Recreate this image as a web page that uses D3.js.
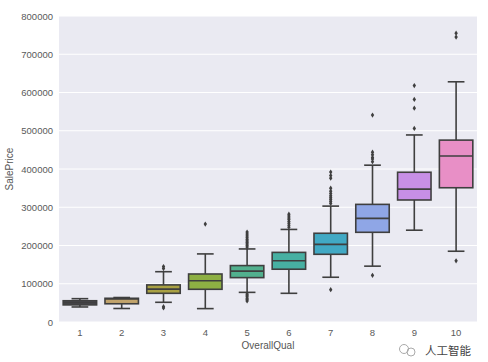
<!DOCTYPE html>
<html lang="en">
<head>
<meta charset="UTF-8">
<title>SalePrice by OverallQual</title>
<script src="https://d3js.org/d3.v7.min.js"></script>
<style>
    body {
        margin: 0;
        background: #fff;
        font-family: 'Liberation Sans', Arial, sans-serif;
    }
    .tick text { fill: #5a5a5a; font-size: 9.5px; }
    .axis-label { fill: #555; font-size: 10px; }
</style>
</head>
<body>
<div id="chart"></div>
<script>
// box statistics
const categories = [1, 2, 3, 4, 5, 6, 7, 8, 9, 10];
const whiskerLow  = [39300, 35311, 51500, 35000, 77500, 75000, 117000, 146000, 240000, 185000];
const q1          = [44725, 47655, 75000, 85500, 116000, 138000, 177000, 234500, 319000, 351000];
const medians     = [50150, 60000, 86000, 108000, 133000, 160000, 203000, 271000, 347500, 434000];
const q3          = [55575, 62000, 97000, 125500, 147500, 182000, 232000, 307500, 391500, 475500];
const whiskerHigh = [61000, 64000, 131500, 178000, 191000, 242000, 303000, 410000, 489000, 628000];
const outliers = [
    [],
    [],
    [36600, 40000, 139600, 145000],
    [256000],
    [55000, 58500, 62000, 66000, 70000, 73000, 196000, 200000, 204000, 208000, 212000, 216000, 220000, 225000, 230000, 235000],
    [248000, 253000, 258000, 263000, 268000, 272000, 277000, 282000],
    [84500, 310000, 315000, 320000, 325000, 330000, 336000, 342000, 350000, 376000, 383000, 392000],
    [122000, 419000, 426000, 430000, 437000, 444000, 541000],
    [506000, 559000, 582000, 618000],
    [160000, 745000, 755000]
];
const boxColors = ["#48474f", "#c2a46c", "#a9a143", "#8daf43", "#52b08e", "#47b0a2", "#41a9c4", "#8fa6e6", "#c78fe6", "#e88fc6"];
const yTicks = [0, 100000, 200000, 300000, 400000, 500000, 600000, 700000, 800000];

const width = 488;
const height = 362;
const margin = { top: 16, right: 11, bottom: 40, left: 59 };
const lineColor = "#3f3f3f";

const svg = d3.select("#chart")
    .append("svg")
    .attr("width", width)
    .attr("height", height);

const x = d3.scaleBand()
    .domain(categories)
    .range([margin.left, width - margin.right])
    .paddingInner(0.2)
    .paddingOuter(0.1);

const y = d3.scaleLinear()
    .domain([0, 800000])
    .range([height - margin.bottom, margin.top]);

// plot background
svg.append("rect")
    .attr("x", margin.left)
    .attr("y", margin.top)
    .attr("width", width - margin.left - margin.right)
    .attr("height", height - margin.top - margin.bottom)
    .attr("fill", "#eaeaf2");

// grid lines
svg.append("g")
    .selectAll("line")
    .data(yTicks)
    .enter()
    .append("line")
    .attr("x1", margin.left)
    .attr("x2", width - margin.right)
    .attr("y1", d => y(d))
    .attr("y2", d => y(d))
    .attr("stroke", "#fff")
    .attr("stroke-width", 1);

// axes
const yAxis = svg.append("g")
    .attr("transform", `translate(${margin.left},0)`)
    .call(d3.axisLeft(y).tickValues(yTicks).tickFormat(d3.format("d")).tickSize(0).tickPadding(6));
yAxis.select(".domain").remove();

const xAxis = svg.append("g")
    .attr("transform", `translate(0,${height - margin.bottom})`)
    .call(d3.axisBottom(x).tickSize(0).tickPadding(7));
xAxis.select(".domain").remove();

svg.append("text")
    .attr("class", "axis-label")
    .attr("x", (margin.left + width - margin.right) / 2)
    .attr("y", 349)
    .attr("text-anchor", "middle")
    .text("OverallQual");

svg.append("text")
    .attr("class", "axis-label")
    .attr("transform", `translate(13,${(margin.top + height - margin.bottom) / 2}) rotate(-90)`)
    .attr("text-anchor", "middle")
    .text("SalePrice");

// boxes
const boxes = svg.append("g")
    .selectAll("g")
    .data(categories)
    .enter()
    .append("g");

const bw = x.bandwidth();
const cx = (d) => x(d) + bw / 2;

// whiskers
boxes.append("line")
    .attr("x1", cx).attr("x2", cx)
    .attr("y1", (d, i) => y(whiskerLow[i]))
    .attr("y2", (d, i) => y(q1[i]))
    .attr("stroke", lineColor).attr("stroke-width", 1.6);
boxes.append("line")
    .attr("x1", cx).attr("x2", cx)
    .attr("y1", (d, i) => y(q3[i]))
    .attr("y2", (d, i) => y(whiskerHigh[i]))
    .attr("stroke", lineColor).attr("stroke-width", 1.6);

// caps
[whiskerLow, whiskerHigh].forEach(arr => {
    boxes.append("line")
        .attr("x1", d => cx(d) - bw / 4)
        .attr("x2", d => cx(d) + bw / 4)
        .attr("y1", (d, i) => y(arr[i]))
        .attr("y2", (d, i) => y(arr[i]))
        .attr("stroke", lineColor).attr("stroke-width", 1.6);
});

boxes.append("rect")
    .attr("x", d => x(d))
    .attr("width", bw)
    .attr("y", (d, i) => y(q3[i]))
    .attr("height", (d, i) => y(q1[i]) - y(q3[i]))
    .attr("fill", (d, i) => boxColors[i])
    .attr("stroke", lineColor)
    .attr("stroke-width", 1.6);

boxes.append("line")
    .attr("x1", d => x(d))
    .attr("x2", d => x(d) + bw)
    .attr("y1", (d, i) => y(medians[i]))
    .attr("y2", (d, i) => y(medians[i]))
    .attr("stroke", lineColor).attr("stroke-width", 1.6);

// outliers as small diamonds
const diamond = "M0,-2.6L1.7,0L0,2.6L-1.7,0Z";
boxes.each(function (d, i) {
    d3.select(this).selectAll("path")
        .data(outliers[i])
        .enter()
        .append("path")
        .attr("d", diamond)
        .attr("transform", v => `translate(${cx(d)},${y(v)})`)
        .attr("fill", lineColor);
});

// watermark
const wm = svg.append("g").attr("transform", "translate(399,350)");
wm.append("circle").attr("cx", 5).attr("cy", -1).attr("r", 4.5)
    .attr("fill", "none").attr("stroke", "#aaa").attr("stroke-width", 1);
wm.append("circle").attr("cx", 12).attr("cy", 2).attr("r", 4)
    .attr("fill", "none").attr("stroke", "#aaa").attr("stroke-width", 1);
wm.append("text")
    .attr("x", 26).attr("y", 5)
    .attr("font-family", "'Noto Sans CJK SC', sans-serif")
    .attr("font-size", 11.5)
    .attr("fill", "#444")
    .text("人工智能");
</script>
</body>
</html>
